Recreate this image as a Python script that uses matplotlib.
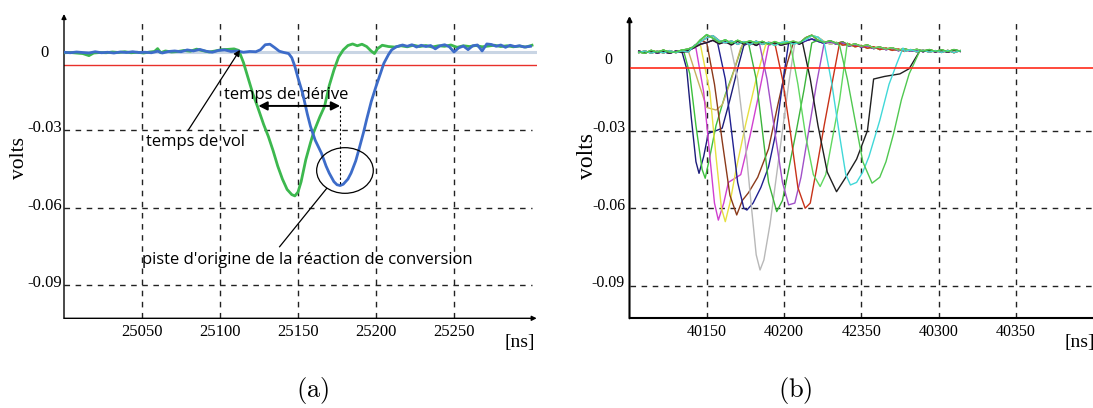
import matplotlib
matplotlib.use('Agg')
import matplotlib.pyplot as plt
from matplotlib.patches import Ellipse
from matplotlib.transforms import ScaledTranslation

plt.rcParams['mathtext.fontset'] = 'cm'

# ---------------- data : panel (a) ----------------
xticks_a = [25050, 25100, 25150, 25200, 25250]
xticklabels_a = ['25050', '25100', '25150', '25200', '25250']
yticks = [0, -0.03, -0.06, -0.09]
yticklabels = ['0', '-0.03', '-0.06', '-0.09']

green_t = [25000, 25004, 25008, 25012, 25016, 25019, 25023, 25027, 25031, 25035,
           25039, 25043, 25047, 25051, 25055, 25058, 25060, 25062, 25065, 25069,
           25073, 25077, 25081, 25085, 25089, 25093, 25097, 25101, 25105, 25109,
           25112, 25115, 25118, 25121, 25124, 25128, 25131, 25134, 25137, 25140,
           25143, 25146, 25148, 25150, 25152, 25155, 25158, 25160, 25164, 25167,
           25170, 25173, 25176, 25179, 25182, 25185, 25188, 25191, 25194, 25197,
           25199, 25201, 25204, 25208, 25212, 25216, 25220, 25224, 25228, 25232,
           25236, 25240, 25244, 25248, 25252, 25256, 25260, 25264, 25268, 25272,
           25276, 25280, 25284, 25288, 25292, 25296, 25300]
green_v = [-0.0003, -0.0002, -0.0004, -0.0006, -0.0014, -0.0004, -0.0002, -0.0003, 0.0000, -0.0002,
           0.0001, -0.0003, -0.0001, -0.0004, 0.0000, 0.0002, 0.0013, -0.0003, 0.0004, 0.0000,
           0.0002, 0.0006, 0.0003, 0.0011, 0.0005, 0.0000, 0.0004, 0.0009, 0.0010, 0.0012,
           0.0006, -0.0040, -0.0100, -0.0160, -0.0210, -0.0280, -0.0326, -0.0380, -0.0440, -0.0490,
           -0.0530, -0.0550, -0.0555, -0.0540, -0.0500, -0.0415, -0.0350, -0.0310, -0.0250, -0.0210,
           -0.0130, -0.0070, -0.0020, 0.0008, 0.0025, 0.0031, 0.0024, 0.0030, 0.0021, 0.0003,
           -0.0006, 0.0013, 0.0026, 0.0021, 0.0019, 0.0024, 0.0020, 0.0026, 0.0021, 0.0025,
           0.0019, 0.0024, 0.0022, 0.0027, 0.0018, 0.0024, 0.0021, 0.0025, 0.0020, 0.0023,
           0.0026, 0.0021, 0.0024, 0.0020, 0.0023, 0.0019, 0.0026]

blue_t = [25000, 25004, 25008, 25012, 25016, 25020, 25024, 25028, 25032, 25036,
          25040, 25044, 25048, 25052, 25056, 25060, 25063, 25067, 25071, 25075,
          25079, 25083, 25087, 25091, 25095, 25099, 25103, 25107, 25111, 25115,
          25119, 25123, 25126, 25129, 25132, 25135, 25138, 25141, 25144, 25146,
          25148, 25150, 25153, 25156, 25158, 25161, 25165, 25168, 25170, 25173,
          25175, 25177, 25179, 25182, 25184, 25187, 25189, 25192, 25194, 25197,
          25200, 25203, 25205, 25208, 25210, 25213, 25217, 25220, 25223, 25226,
          25229, 25232, 25235, 25238, 25241, 25244, 25247, 25250, 25253, 25256,
          25259, 25262, 25265, 25268, 25271, 25274, 25277, 25280, 25283, 25286,
          25289, 25292, 25295, 25299]
blue_v = [-0.0001, -0.0003, 0.0000, -0.0002, -0.0004, 0.0001, -0.0003, -0.0001, -0.0004, 0.0000,
          -0.0002, 0.0001, -0.0002, -0.0001, -0.0003, 0.0003, -0.0004, 0.0002, 0.0004, 0.0001,
          0.0008, 0.0004, 0.0010, 0.0003, -0.0001, 0.0006, 0.0008, 0.0002, 0.0004, -0.0001,
          0.0002, 0.0001, 0.0009, 0.0028, 0.0030, 0.0017, 0.0003, -0.0002, -0.0006, -0.0022,
          -0.0056, -0.0100, -0.0160, -0.0240, -0.0287, -0.0340, -0.0390, -0.0440, -0.0467, -0.0500,
          -0.0512, -0.0515, -0.0510, -0.0490, -0.0467, -0.0420, -0.0377, -0.0310, -0.0260, -0.0190,
          -0.0133, -0.0080, -0.0044, -0.0010, 0.0008, 0.0020, 0.0027, 0.0022, 0.0028, 0.0019,
          0.0026, 0.0021, 0.0025, 0.0012, 0.0024, 0.0028, 0.0020, 0.0000, 0.0016, 0.0023,
          0.0009, 0.0024, 0.0027, 0.0004, 0.0031, 0.0029, 0.0022, 0.0027, 0.0018, 0.0026,
          0.0021, 0.0024, 0.0019, 0.0022]

threshold_a = -0.0051

# ---------------- data : panel (b) ----------------
xticks_b = [40150, 40200, 40250, 40300, 40350]
xticklabels_b = ['40150', '40200', '42350', '40300', '40350']
threshold_b = -0.0058

base_t = list(range(40106, 40315, 4))
base_a = [0.0008, 0.0002, 0.0007, 0.0001, 0.0006, 0.0000, 0.0008, 0.0003, 0.0010, 0.0022,
          0.0035, 0.0041, 0.0050, 0.0036, 0.0044, 0.0032, 0.0046, 0.0035, 0.0042, 0.0030,
          0.0044, 0.0036, 0.0040, 0.0031, 0.0037, 0.0043, 0.0036, 0.0048, 0.0055, 0.0046,
          0.0038, 0.0044, 0.0035, 0.0040, 0.0028, 0.0033, 0.0024, 0.0027, 0.0018, 0.0022,
          0.0014, 0.0018, 0.0010, 0.0015, 0.0008, 0.0013, 0.0006, 0.0012, 0.0005, 0.0011,
          0.0004, 0.0012, 0.0007]
base_b = [0.0002, 0.0009, 0.0000, 0.0008, 0.0001, 0.0010, 0.0002, 0.0009, 0.0004, 0.0030,
          0.0044, 0.0060, 0.0068, 0.0049, 0.0040, 0.0048, 0.0034, 0.0045, 0.0033, 0.0047,
          0.0034, 0.0042, 0.0030, 0.0041, 0.0046, 0.0035, 0.0042, 0.0052, 0.0068, 0.0062,
          0.0045, 0.0035, 0.0042, 0.0031, 0.0036, 0.0025, 0.0030, 0.0019, 0.0025, 0.0014,
          0.0020, 0.0011, 0.0016, 0.0007, 0.0014, 0.0005, 0.0012, 0.0004, 0.0010, 0.0003,
          0.0011, 0.0002, 0.0010]
base_c = [0.0005, 0.0000, 0.0011, 0.0004, 0.0012, 0.0003, 0.0005, 0.0012, 0.0016, 0.0026,
          0.0052, 0.0072, 0.0058, 0.0042, 0.0052, 0.0038, 0.0050, 0.0040, 0.0048, 0.0039,
          0.0046, 0.0034, 0.0045, 0.0036, 0.0040, 0.0047, 0.0039, 0.0060, 0.0070, 0.0050,
          0.0042, 0.0048, 0.0038, 0.0044, 0.0030, 0.0036, 0.0027, 0.0032, 0.0020, 0.0024,
          0.0016, 0.0021, 0.0012, 0.0017, 0.0010, 0.0015, 0.0008, 0.0014, 0.0007, 0.0013,
          0.0006, 0.0014, 0.0008]

pulse_colors = ['#1c1c7a', '#3cc03c', '#c8b060', '#d040d0', '#e6e040', '#8b3a1a',
                '#202090', '#b8b8b8', '#3cb43c', '#a050c8', '#c83218', '#60d860',
                '#202020', '#40d8d8', '#50c850']
pulse_times = [
    [40134, 40137, 40140, 40143, 40145, 40148, 40151, 40156, 40160, 40165, 40170, 40174],
    [40135, 40139, 40143, 40147, 40149, 40152, 40156, 40162, 40168, 40173],
    [40138, 40145, 40150, 40156, 40160, 40166, 40172],
    [40143, 40148, 40152, 40155, 40157.5, 40161, 40164, 40168, 40172, 40178, 40184, 40190],
    [40146, 40152, 40156, 40159.5, 40162, 40165, 40169, 40175, 40182, 40188],
    [40150, 40155, 40160, 40165, 40169.4, 40173, 40177, 40183, 40190, 40196, 40202, 40206],
    [40157, 40162, 40166, 40170, 40174, 40176, 40180, 40185, 40190, 40195, 40199, 40203],
    [40165, 40170, 40175, 40179, 40182, 40184.5, 40187, 40191, 40195, 40199, 40203, 40207],
    [40177, 40182, 40186, 40190, 40195.3, 40199, 40203, 40208, 40213, 40218],
    [40184, 40189, 40194, 40199, 40203, 40207, 40211, 40216, 40221, 40226],
    [40194, 40199, 40204, 40209, 40213.7, 40217, 40221, 40226, 40231, 40236],
    [40204, 40209, 40214, 40219, 40223.4, 40227, 40231, 40236, 40241],
    [40212, 40217, 40222, 40228, 40234, 40240, 40247, 40254, 40258, 40265, 40275, 40281, 40288],
    [40226, 40231, 40236, 40240, 40243, 40247, 40251, 40255, 40262, 40268, 40273, 40277],
    [40236, 40241, 40246, 40251, 40257, 40262, 40266, 40271, 40276, 40281, 40288],
]
pulse_volts = [
    [0.0005, -0.006, -0.025, -0.042, -0.0465, -0.040, -0.031, -0.030, -0.029, -0.018, -0.006, 0.003],
    [0.001, -0.008, -0.028, -0.045, -0.0484, -0.040, -0.028, -0.016, -0.006, 0.003],
    [0.001, -0.012, -0.021, -0.022, -0.020, -0.010, 0.002],
    [0.002, -0.015, -0.040, -0.058, -0.0646, -0.058, -0.050, -0.0485, -0.047, -0.032, -0.015, 0.003],
    [0.003, -0.015, -0.040, -0.060, -0.0652, -0.058, -0.045, -0.028, -0.010, 0.003],
    [0.004, -0.012, -0.034, -0.055, -0.0626, -0.057, -0.054, -0.048, -0.037, -0.020, -0.004, 0.004],
    [0.004, -0.010, -0.030, -0.050, -0.060, -0.0607, -0.058, -0.052, -0.044, -0.030, -0.012, 0.004],
    [0.004, -0.010, -0.035, -0.060, -0.078, -0.0839, -0.080, -0.066, -0.048, -0.030, -0.012, 0.004],
    [0.004, -0.010, -0.030, -0.050, -0.0613, -0.057, -0.045, -0.030, -0.014, 0.004],
    [0.004, -0.010, -0.030, -0.050, -0.0587, -0.058, -0.048, -0.030, -0.012, 0.004],
    [0.004, -0.010, -0.030, -0.052, -0.060, -0.058, -0.045, -0.028, -0.012, 0.004],
    [0.004, -0.012, -0.032, -0.047, -0.0516, -0.047, -0.034, -0.018, 0.004],
    [0.004, -0.010, -0.028, -0.046, -0.0536, -0.048, -0.041, -0.030, -0.010, -0.009, -0.008, -0.006, 0.001],
    [0.004, -0.012, -0.032, -0.047, -0.051, -0.050, -0.046, -0.040, -0.026, -0.012, -0.004, 0.002],
    [0.003, -0.010, -0.026, -0.042, -0.0503, -0.048, -0.042, -0.031, -0.018, -0.008, 0.001],
]

# ---------------- figure ----------------
W, H = 1093, 408
fig = plt.figure(figsize=(W / 100, H / 100), dpi=100)


def rect(l, t, r, b):
    return [l / W, 1 - b / H, (r - l) / W, (b - t) / H]


serif = 'Liberation Serif'
sans = 'Open Sans'
grid_ls = (0, (4, 4))

axA = fig.add_axes(rect(64, 14, 536.7, 318.3))
axB = fig.add_axes(rect(629.5, 16, 1093, 318.3))
axA.set_xlim(25000, 25303)
axA.set_ylim(-0.1027, 0.01465)
axB.set_xlim(40100, 40400)
axB.set_ylim(-0.1026, 0.0144)

for ax, lw in ((axA, 1.0), (axB, 1.5)):
    ax.set_facecolor('none')
    for s in ('top', 'right'):
        ax.spines[s].set_visible(False)
    ax.spines['left'].set_visible(False)
    ax.spines['bottom'].set_linewidth(lw)
    ax.annotate('', xy=(0, 1), xytext=(0, 0), xycoords='axes fraction',
                arrowprops=dict(arrowstyle='-|>', lw=lw, color='k',
                                mutation_scale=7, shrinkA=0, shrinkB=0))
    ax.set_yticks(yticks)
    ax.set_yticklabels(yticklabels)

# bottom arrow for (a)
axA.spines['bottom'].set_visible(False)
axA.annotate('', xy=(1, 0), xytext=(0, 0), xycoords='axes fraction',
             arrowprops=dict(arrowstyle='-|>', lw=1.0, color='k',
                             mutation_scale=7, shrinkA=0, shrinkB=0))

# ---- panel (a)
axA.set_xticks(xticks_a)
axA.set_xticklabels(xticklabels_a)
axA.vlines(xticks_a, axA.get_ylim()[0], 0.012, colors='#222222', lw=1.0, linestyles=grid_ls, zorder=1)
axA.hlines(yticks[1:], 25000, 25300, colors='#222222', lw=1.0, linestyles=grid_ls, zorder=1)
axA.axhline(0, color='#c9d5e4', lw=2.2, zorder=1.5)
axA.axhline(threshold_a, color='#e8302a', lw=1.0, zorder=2)
axA.plot(green_t, green_v, color='#3cb84e', lw=2.0, zorder=3)
axA.plot(blue_t, blue_v, color='#3d6cc9', lw=2.0, zorder=3.5)

axA.text(25142.7, -0.0166, 'temps de dérive', ha='center', va='center', family=sans, size=12)
axA.annotate('', xy=(25124.6, -0.0208), xytext=(25177, -0.0208),
             arrowprops=dict(arrowstyle='<|-|>', color='k', lw=1.4, mutation_scale=13,
                             shrinkA=0, shrinkB=0), zorder=5)
axA.plot([25177, 25177], [-0.0208, -0.0515], color='k', lw=0.8, ls=(0, (2, 2)), zorder=5)
axA.text(25084, -0.0346, 'temps de vol', ha='center', va='center', family=sans, size=12)
axA.annotate('', xy=(25112.8, 0.0008), xytext=(25079.7, -0.0301),
             arrowprops=dict(arrowstyle='-|>', color='k', lw=0.9, mutation_scale=9,
                             shrinkA=0, shrinkB=0), zorder=5)
axA.add_patch(Ellipse((25180.1, -0.0457), 36.3, 0.0176, fill=False, lw=0.9, ec='k', zorder=5))
axA.plot([25168.4, 25138.2], [-0.0526, -0.0751], color='k', lw=0.9, zorder=5)
axA.text(25155.8, -0.0802, "piste d'origine de la réaction de conversion", ha='center', va='center',
         family=sans, size=12)

# ---- panel (b)
axB.set_xticks(xticks_b)
axB.set_xticklabels(xticklabels_b)
axB.vlines(xticks_b, axB.get_ylim()[0], 0.0118, colors='#222222', lw=1.0, linestyles=grid_ls, zorder=1)
axB.hlines(yticks[1:], 40100, 40400, colors='#222222', lw=1.0, linestyles=grid_ls, zorder=1)
bases = [base_a, base_b, base_c]
for i, (pt, pv, c) in enumerate(zip(pulse_times, pulse_volts, pulse_colors)):
    bv = bases[i % 3]
    t = [x for x in base_t if x < pt[0]] + pt + [x for x in base_t if x > pt[-1]]
    v = [y for x, y in zip(base_t, bv) if x < pt[0]] + pv + [y for x, y in zip(base_t, bv) if x > pt[-1]]
    axB.plot(t, v, color=c, lw=1.0, zorder=3)
axB.axhline(threshold_b, color='#ff2a1a', lw=1.2, zorder=4)

# tick label styling (small nudges as in the reference)
label_shift = {axA: [1, 4, 4, 4], axB: [-5, 4.5, 4.5, 4.5]}
for ax, size, dx in ((axA, 12, -19.5), (axB, 11.5, -21)):
    ax.tick_params(length=0)
    ax.tick_params(axis='y', pad=0)
    ax.tick_params(axis='x', pad=4)
    for lab in ax.get_xticklabels():
        lab.set_family(serif)
        lab.set_size(size)
    for lab, dy in zip(ax.get_yticklabels(), label_shift[ax]):
        lab.set_family(serif)
        lab.set_size(size)
        lab.set_horizontalalignment('center')
        lab.set_transform(ax.get_yaxis_transform() +
                          ScaledTranslation(dx / 100, dy / 100, fig.dpi_scale_trans))

# axis labels and captions
fig.text(19 / W, 1 - 158 / H, 'volts', rotation=90, ha='center', va='center', family=serif, size=15.5)
fig.text(587.5 / W, 1 - 156 / H, 'volts', rotation=90, ha='center', va='center', family=serif, size=17)
fig.text(505 / W, 1 - 343 / H, '[ns]', ha='left', va='center', family=serif, size=14)
fig.text(1065 / W, 1 - 342 / H, '[ns]', ha='left', va='center', family=serif, size=14)
fig.text(313 / W, 1 - 391 / H, r'$\mathrm{(a)}$', ha='center', va='center', size=19)
fig.text(795 / W, 1 - 390 / H, r'$\mathrm{(b)}$', ha='center', va='center', size=19)

fig.savefig('out.png', dpi=100)
